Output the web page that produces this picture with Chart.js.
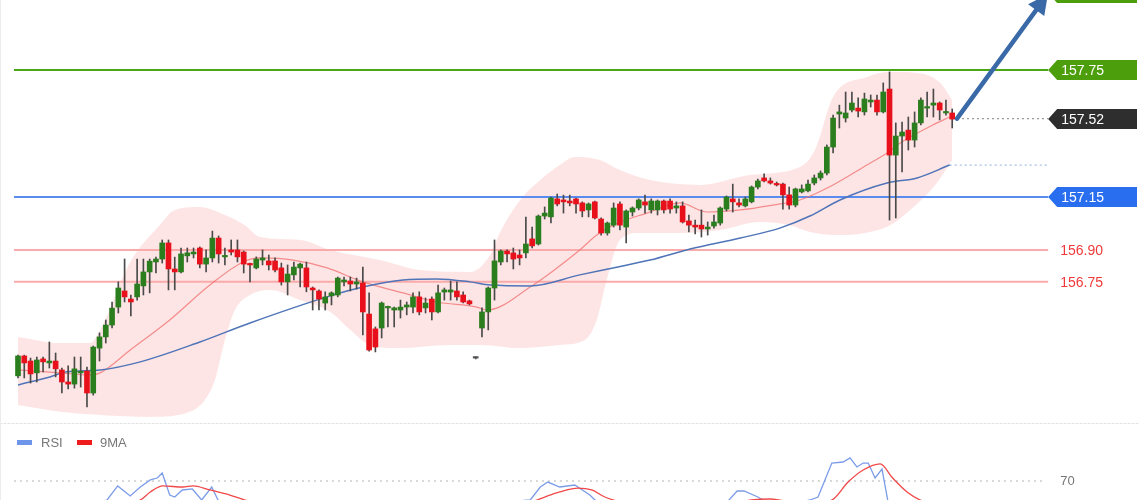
<!DOCTYPE html>
<html><head><meta charset="utf-8">
<script src="https://cdn.jsdelivr.net/npm/chart.js@4.4.0/dist/chart.umd.min.js"></script>
<style>
html,body{margin:0;padding:0;background:#fff;overflow:hidden;width:1140px;height:500px;}
#main{position:absolute;left:0;top:0;}
#rsi{position:absolute;left:0;top:425px;}
</style></head><body>
<canvas id="main" width="1140" height="425"></canvas>
<canvas id="rsi" width="1140" height="75"></canvas>
<script>
// ---------- DATA ----------
const opens = [156.305,156.399,156.375,156.319,156.385,156.366,156.375,156.333,156.276,156.266,156.319,156.328,156.224,156.436,156.489,156.545,156.630,156.706,156.668,156.678,156.730,156.796,156.843,156.857,156.933,156.810,156.796,156.872,156.881,156.909,156.833,156.862,156.956,156.867,156.900,156.900,156.890,156.833,156.815,156.852,156.848,156.848,156.815,156.749,156.782,156.815,156.815,156.720,156.706,156.649,156.683,156.687,156.749,156.753,156.739,156.744,156.597,156.527,156.531,156.626,156.616,156.616,156.630,156.630,156.678,156.626,156.668,156.607,156.701,156.701,156.706,156.687,156.659,156.389,156.531,156.607,156.720,156.843,156.895,156.886,156.876,156.886,156.952,156.928,157.060,157.056,157.141,157.136,157.131,157.141,157.122,157.089,157.127,157.046,156.980,157.017,157.117,157.008,157.079,157.098,157.127,157.089,157.089,157.131,157.131,157.098,157.108,157.037,157.017,157.017,156.999,157.013,157.027,157.093,157.141,157.122,157.108,157.127,157.197,157.240,157.226,157.211,157.211,157.160,157.112,157.174,157.179,157.216,157.240,157.263,157.386,157.542,157.523,157.561,157.570,157.552,157.599,157.608,157.552,157.660,157.348,157.438,157.466,157.419,157.500,157.570,157.584,157.594,157.547,157.547];
const highs = [156.403,156.403,156.389,156.394,156.394,156.465,156.413,156.342,156.352,156.394,156.394,156.347,156.446,156.508,156.569,156.654,156.749,156.857,156.687,156.857,156.857,156.857,156.866,156.947,156.947,156.866,156.909,156.909,156.909,156.914,156.900,156.989,156.966,156.909,156.947,156.947,156.895,156.838,156.867,156.900,156.876,156.862,156.838,156.829,156.843,156.838,156.843,156.725,156.711,156.702,156.702,156.772,156.772,156.772,156.767,156.819,156.697,156.536,156.654,156.635,156.630,156.663,156.654,156.697,156.702,156.673,156.678,156.734,156.720,156.753,156.749,156.702,156.663,156.394,156.626,156.725,156.947,156.900,156.900,156.909,156.900,157.055,157.008,157.065,157.103,157.150,157.164,157.159,157.159,157.145,157.127,157.122,157.131,157.051,157.032,157.122,157.127,157.089,157.103,157.141,157.159,157.141,157.136,157.136,157.141,157.127,157.127,157.065,157.041,157.089,157.032,157.065,157.103,157.155,157.211,157.141,157.150,157.202,157.235,157.259,157.240,157.221,157.216,157.197,157.192,157.207,157.230,157.254,157.273,157.396,157.537,157.584,157.646,157.646,157.618,157.641,157.632,157.632,157.689,157.741,157.500,157.504,157.528,157.552,157.618,157.646,157.660,157.599,157.608,157.566];
const lows = [156.295,156.295,156.271,156.276,156.324,156.342,156.300,156.224,156.243,156.247,156.252,156.158,156.214,156.375,156.460,156.531,156.602,156.654,156.588,156.663,156.687,156.697,156.791,156.838,156.711,156.711,156.791,156.843,156.862,156.815,156.796,156.843,156.838,156.829,156.876,156.843,156.791,156.749,156.810,156.829,156.805,156.796,156.734,156.687,156.758,156.725,156.702,156.616,156.616,156.616,156.640,156.678,156.730,156.706,156.715,156.498,156.422,156.418,156.484,156.536,156.536,156.578,156.593,156.602,156.593,156.602,156.569,156.602,156.663,156.663,156.663,156.649,156.640,156.385,156.489,156.522,156.663,156.829,156.843,156.810,156.829,156.862,156.909,156.923,157.046,157.027,157.108,157.074,157.108,157.074,157.056,157.056,157.046,156.970,156.970,157.008,156.994,156.933,157.060,157.089,157.074,157.074,157.065,157.074,157.074,157.074,157.027,156.985,156.975,156.961,156.970,157.003,157.017,157.084,157.079,157.103,157.103,157.122,157.188,157.221,157.211,157.202,157.093,157.093,157.103,157.169,157.174,157.207,157.230,157.254,157.358,157.476,157.504,157.552,157.528,157.537,157.575,157.537,157.547,157.041,157.051,157.268,157.372,157.386,157.490,157.528,157.528,157.514,157.537,157.476];
const closes = [156.399,156.366,156.314,156.380,156.371,156.375,156.338,156.276,156.266,156.338,156.324,156.224,156.441,156.489,156.545,156.625,156.720,156.678,156.654,156.739,156.796,156.847,156.857,156.933,156.810,156.796,156.881,156.886,156.890,156.833,156.862,156.956,156.881,156.872,156.890,156.867,156.833,156.829,156.857,156.862,156.829,156.805,156.749,156.786,156.819,156.833,156.725,156.711,156.668,156.678,156.697,156.767,156.758,156.739,156.749,156.607,156.427,156.441,156.649,156.630,156.626,156.630,156.640,156.678,156.607,156.649,156.607,156.697,156.711,156.711,156.678,156.654,156.645,156.389,156.607,156.720,156.848,156.895,156.881,156.857,156.862,156.928,156.919,157.060,157.074,157.145,157.117,157.127,157.122,157.117,157.084,157.117,157.051,156.980,157.027,157.098,157.017,157.084,157.098,157.136,157.112,157.131,157.131,157.089,157.093,157.108,157.032,157.017,157.008,156.999,157.008,157.032,157.098,157.150,157.127,157.112,157.141,157.197,157.226,157.226,157.216,157.207,157.160,157.112,157.188,157.188,157.211,157.240,157.263,157.386,157.523,157.552,157.547,157.594,157.556,157.613,157.608,157.552,157.646,157.348,157.438,157.457,157.419,157.500,157.608,157.575,157.594,157.561,157.552,157.518];

// Bollinger band (x in candle-index units)
const upperX = [0,6.7,11.5,13.1,17.9,22.6,25.0,29.0,33.0,36.2,38.6,45.0,49.8,57.7,64.1,72.1,75.3,76.9,80.1,83.3,86.4,88.8,92.8,96.0,100.8,108.8,116.7,124.7,127.1,130.0,135.4,139.1,143.4,147.1,149.0];
const upperBand = [156.489,156.460,156.460,156.522,156.843,157.017,157.089,157.103,157.065,157.017,156.961,156.947,156.900,156.852,156.805,156.796,156.876,156.985,157.136,157.230,157.301,157.339,157.325,157.277,157.230,157.207,157.254,157.292,157.372,157.623,157.717,157.740,157.736,157.689,157.608];
const lowerX = [0,6.7,13.1,21.1,27.4,29.8,31.4,33.0,34.6,37.0,40.2,45.0,49.8,53.0,56.1,60.9,68.9,73.7,80.1,86.4,90.4,92.3,93.9,96.0,99.2,105.6,112.0,118.3,123.1,126.3,131.1,135.9,139.1,142.3,146.3,149.0];
const lowerBand = [156.167,156.135,156.120,156.111,156.135,156.191,156.285,156.474,156.616,156.687,156.711,156.663,156.607,156.522,156.451,156.436,156.451,156.451,156.436,156.451,156.474,156.569,156.758,156.947,156.980,156.980,156.994,157.032,157.017,156.985,156.970,156.985,157.017,157.089,157.207,157.325];
const midX = [0,6.7,11.5,13.1,17.9,24.2,30.6,35.9,38.6,43.9,49.3,55.0,61.4,66.8,73.2,74.8,81.7,89.6,92.3,94.9,100.3,105.6,109.9,115.2,120.4,124.7,130.0,135.4,138.6,140.7,145.9,148.6];
const midBand = [156.333,156.319,156.309,156.319,156.427,156.569,156.734,156.843,156.862,156.852,156.815,156.749,156.697,156.654,156.630,156.616,156.725,156.900,156.970,157.017,157.074,157.122,157.079,157.089,157.112,157.136,157.207,157.301,157.358,157.405,157.490,157.528];
const maX = [0,5.1,7.8,13.1,19.5,29.0,37.0,49.8,55.0,61.4,66.8,72.1,75.3,81.7,89.6,94.9,100.8,107.2,115.2,121.5,126.3,131.1,138.6,143.4,148.6];
const maLong = [156.262,156.300,156.324,156.333,156.371,156.465,156.555,156.683,156.725,156.758,156.763,156.749,156.734,156.730,156.782,156.815,156.852,156.904,156.956,157.003,157.060,157.136,157.216,157.240,157.301];

// Levels and tags
const levelValues = [157.75, 157.15, 156.90, 156.75];
const levelColors = ['#4aa517', '#5a8cf0', '#f9aaaa', '#f9aaaa'];
const tagValues = [158.115, 157.75, 157.52, 157.15];
const tagLabels = ['158.10', '157.75', '157.52', '157.15'];
const tagColors = ['#4c9e0c', '#4c9e0c', '#2e2e2e', '#2a6ef0'];
const redLabelValues = [156.90, 156.75];
const redLabels = ['156.90', '156.75'];
const lastClose = 157.52;
const maLast = 157.301;
const arrowFrom = [149.76, 157.52];
const arrowTo = [164.27, 158.109];

// RSI panel
const rsiX = [0,5,10,13.1,14.2,15.9,17.9,19.5,21.1,22.2,23.0,24.2,25.0,26.2,27.8,29.3,30.9,31.9,33,38,44,50,56,61,67,72,74,78,81.7,83.3,84.5,86.4,88.8,91.2,93,97,102,107,110,113.4,114.7,115.8,118.0,118.8,122,126.3,127.6,128.7,129.8,131.6,132.7,133.8,134.8,135.6,136.7,137.8,139,142,146,149];
const rsiVals = [45,40,43,50,51.6,65.2,55.5,64.2,71.0,72.9,77.7,56.4,54.5,61.3,62.3,51.6,64.2,51.6,46,40,38,42,28,40,44,42,48,50,51.6,64.2,69.0,64.2,66.1,56.4,46,48,44,40,38,51.6,60.3,60.3,54.5,51.6,46,51.6,54.5,71.0,87.4,88.4,92.3,83.6,87.4,87.4,72.9,81.6,42,48,50,46];
const rsiMaX = [0,10,16,19.5,21.1,23.1,26.3,27.9,30.6,33.8,36.2,42,55,65,75,82,84.0,86.4,89.3,91.5,93.6,96,105,112,117,119.9,122,126,129.8,132.4,134.8,137.5,139.5,141.8,143.9,149];
const rsiMaVals = [44,42,48,51.6,59.4,65.2,64.2,65.2,61.3,56.4,51.6,44,38,38,44,50,54.5,59.4,63.2,61.3,54.5,50,44,46,51.6,52.6,51,48,51.6,69.0,80.6,86.5,72.9,59.4,51.6,44];
const rsiLevel = 70;

// ---------- SCALES ----------
const X_MIN = -2.871, X_MAX = 178.95;
const Y_MIN = 156.0728, Y_MAX = 158.0807;
const RSI_MIN = 51.61, RSI_MAX = 124.21;
const LINE_X0 = -0.64, LINE_X1 = 164.3;
const GREEN = '#2a7e1e', RED = '#e8101a', DOJI = '#555555';
const FONT = '"Liberation Sans", Arial, sans-serif';

const pts = (xs, ys) => xs.map((x, i) => ({x, y: ys[i]}));

const datasets = [];
datasets.push({type:'line', data: pts(upperX, upperBand), borderWidth:0, borderColor:'rgba(0,0,0,0)', pointRadius:0,
  fill:'+1', backgroundColor:'rgba(252,175,175,0.33)', cubicInterpolationMode:'monotone', order:30});
datasets.push({type:'line', data: pts(lowerX, lowerBand), borderWidth:0, borderColor:'rgba(0,0,0,0)', pointRadius:0,
  fill:false, cubicInterpolationMode:'monotone', order:29});
levelValues.forEach((v, i) => datasets.push({type:'line', data:[{x:LINE_X0,y:v},{x:LINE_X1,y:v}],
  borderColor: levelColors[i], borderWidth:2, pointRadius:0, fill:false, order:20}));
datasets.push({type:'line', data:[{x:arrowFrom[0],y:lastClose},{x:LINE_X1,y:lastClose}], borderColor:'#9a9a9a',
  borderDash:[2,3], borderWidth:1.2, pointRadius:0, fill:false, order:19});
datasets.push({type:'line', data:[{x:maX[maX.length-1],y:maLast},{x:LINE_X1,y:maLast}], borderColor:'#a8bde6',
  borderDash:[2,3], borderWidth:1.2, pointRadius:0, fill:false, order:19});
datasets.push({type:'line', data: pts(midX, midBand), borderColor:'rgba(240,110,110,0.75)', borderWidth:1.2,
  pointRadius:0, fill:false, cubicInterpolationMode:'monotone', order:12});
datasets.push({type:'line', data: pts(maX, maLong), borderColor:'#4f74b8', borderWidth:1.5,
  pointRadius:0, fill:false, cubicInterpolationMode:'monotone', order:11});
datasets.push({type:'bar', data: lows.map((l, i) => ({x:i, y:[l, highs[i]]})), backgroundColor:'#4a4a4a',
  barThickness:1, grouped:false, order:2});
datasets.push({type:'bar', data: opens.map((o, i) => ({x:i, y:[o, closes[i]]})),
  backgroundColor: opens.map((o, i) => closes[i] > o ? GREEN : (closes[i] < o ? RED : DOJI)),
  barThickness:5, minBarLength:1.5, grouped:false, order:1});

function tagShape(ctx, px, py, right) {
  ctx.beginPath();
  ctx.moveTo(px, py);
  ctx.lineTo(px + 9, py - 10);
  ctx.lineTo(right, py - 10);
  ctx.lineTo(right, py + 10);
  ctx.lineTo(px + 9, py + 10);
  ctx.closePath();
}

const mainDecor = {
  id: 'mainDecor',
  afterDatasetsDraw(chart) {
    const {ctx, scales: {x, y}} = chart;
    ctx.save();
    // arrow
    const x0 = x.getPixelForValue(arrowFrom[0]), y0 = y.getPixelForValue(arrowFrom[1]);
    const x1 = x.getPixelForValue(arrowTo[0]), y1 = y.getPixelForValue(arrowTo[1]);
    const ang = Math.atan2(y1 - y0, x1 - x0);
    const head = 20, hw = 10;
    const bx = x1 - head * Math.cos(ang), by = y1 - head * Math.sin(ang);
    ctx.strokeStyle = '#3a69a8'; ctx.fillStyle = '#3a69a8';
    ctx.lineWidth = 4.5; ctx.lineCap = 'round';
    ctx.beginPath(); ctx.moveTo(x0, y0); ctx.lineTo(bx, by); ctx.stroke();
    ctx.beginPath(); ctx.moveTo(x1, y1);
    ctx.lineTo(bx + hw * Math.sin(ang), by - hw * Math.cos(ang));
    ctx.lineTo(bx - hw * Math.sin(ang), by + hw * Math.cos(ang));
    ctx.closePath(); ctx.fill();
    // price tags
    const tx = x.getPixelForValue(LINE_X1);
    ctx.font = '14px ' + FONT;
    ctx.textBaseline = 'middle';
    tagValues.forEach((v, i) => {
      const py = Math.round(y.getPixelForValue(v));
      ctx.fillStyle = tagColors[i];
      tagShape(ctx, tx, py, 1137);
      ctx.fill();
      ctx.fillStyle = '#ffffff';
      ctx.fillText(tagLabels[i], tx + 13, py + 1);
    });
    ctx.fillStyle = '#f03a3a';
    redLabelValues.forEach((v, i) => {
      ctx.fillText(redLabels[i], tx + 12, Math.round(y.getPixelForValue(v)) + 1);
    });
    // panel separator + left border
    ctx.strokeStyle = '#e2e2e2'; ctx.lineWidth = 1; ctx.setLineDash([2, 2]);
    ctx.beginPath(); ctx.moveTo(0, 423.5); ctx.lineTo(1140, 423.5); ctx.stroke();
    ctx.setLineDash([]);
    ctx.strokeStyle = '#ececec';
    ctx.beginPath(); ctx.moveTo(0.5, 0); ctx.lineTo(0.5, 425); ctx.stroke();
    ctx.restore();
  }
};

new Chart(document.getElementById('main'), {
  type: 'bar',
  data: { datasets },
  options: {
    responsive: false, animation: false, devicePixelRatio: 1,
    layout: { padding: 0 },
    plugins: { legend: { display: false }, tooltip: { enabled: false } },
    scales: {
      x: { type: 'linear', min: X_MIN, max: X_MAX, display: false, offset: false, bounds: 'data' },
      y: { type: 'linear', min: Y_MIN, max: Y_MAX, display: false, beginAtZero: false, bounds: 'data' }
    }
  },
  plugins: [mainDecor]
});

const rsiDecor = {
  id: 'rsiDecor',
  afterDatasetsDraw(chart) {
    const {ctx, scales: {x, y}} = chart;
    ctx.save();
    ctx.font = '13px ' + FONT;
    ctx.textBaseline = 'middle';
    ctx.fillStyle = '#6f95ea'; ctx.fillRect(17, 15, 15, 5);
    ctx.fillStyle = '#777777'; ctx.fillText('RSI', 41, 18);
    ctx.fillStyle = '#ee1c1c'; ctx.fillRect(77, 15, 15, 5);
    ctx.fillStyle = '#777777'; ctx.fillText('9MA', 100, 18);
    ctx.fillText(String(rsiLevel), x.getPixelForValue(LINE_X1) + 12, y.getPixelForValue(rsiLevel));
    ctx.strokeStyle = '#ececec'; ctx.lineWidth = 1;
    ctx.beginPath(); ctx.moveTo(0.5, 0); ctx.lineTo(0.5, 75); ctx.stroke();
    ctx.restore();
  }
};

new Chart(document.getElementById('rsi'), {
  type: 'line',
  data: { datasets: [
    { data: pts(rsiX, rsiVals), borderColor: '#7b9ce9', borderWidth: 1.3, pointRadius: 0, tension: 0, fill: false, order: 2 },
    { data: pts(rsiMaX, rsiMaVals), borderColor: '#f04848', borderWidth: 1.3, pointRadius: 0, cubicInterpolationMode: 'monotone', fill: false, order: 1 },
    { data: [{x: LINE_X0, y: rsiLevel}, {x: 163.5, y: rsiLevel}], borderColor: '#cccccc', borderDash: [2, 4], borderWidth: 1.3, pointRadius: 0, fill: false, order: 3 }
  ]},
  options: {
    responsive: false, animation: false, devicePixelRatio: 1,
    layout: { padding: 0 },
    plugins: { legend: { display: false }, tooltip: { enabled: false } },
    scales: {
      x: { type: 'linear', min: X_MIN, max: X_MAX, display: false, offset: false, bounds: 'data' },
      y: { type: 'linear', min: RSI_MIN, max: RSI_MAX, display: false, bounds: 'data' }
    }
  },
  plugins: [rsiDecor]
});
</script>
</body></html>
